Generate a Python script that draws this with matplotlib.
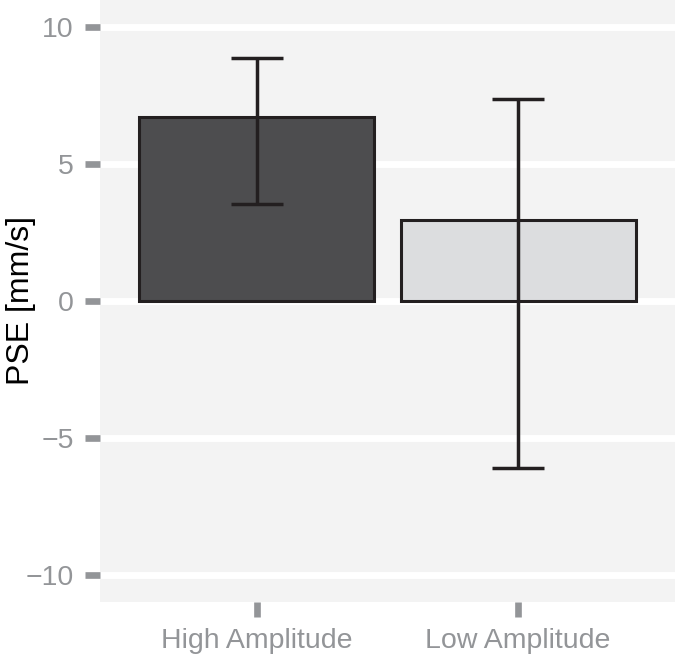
import numpy as np
import matplotlib.pyplot as plt

# Data
conditions = ["High Amplitude", "Low Amplitude"]
pse = [6.72, 2.96]
err_low = [3.54, -6.09]
err_high = [8.87, 7.37]
yticks = [-10, -5, 0, 5, 10]

bar_colors = ["#4D4D4F", "#DCDDDF"]
edge = "#231F20"
grey = "#939598"

plt.rcParams['font.family'] = ['Liberation Sans', 'DejaVu Sans']

fig = plt.figure(figsize=(6.75, 6.55), dpi=100)
ax = fig.add_axes([100 / 675, 53 / 655, 575 / 675, 602 / 655])
ax.set_facecolor("#F3F3F3")
for s in ax.spines.values():
    s.set_visible(False)

x = np.arange(1, len(conditions) + 1)
for yt in yticks:
    ax.axhline(yt, color="white", lw=5, zorder=0)

ax.bar(x, pse, width=0.9, color=bar_colors, edgecolor=edge, linewidth=2.2, zorder=2)
yerr = [np.array(pse) - np.array(err_low), np.array(err_high) - np.array(pse)]
ax.errorbar(x, pse, yerr=yerr, fmt="none", ecolor=edge, elinewidth=2.5,
            capsize=18.5, capthick=2.5, zorder=3)

ax.set_xlim(0.4, 2.6)
ax.set_ylim(-11, 11)
ax.set_xticks(x)
ax.set_xticklabels(conditions)
ax.set_yticks(yticks)
ax.set_yticklabels(["\u221210", "\u22125", "0", "5", "10"])
ax.tick_params(axis="both", colors=grey, length=11, width=4.8, labelsize=20.5,
               labelcolor=grey, pad=8)

fig.text(21 / 675, 1 - 301 / 655, "PSE [mm/s]", fontsize=23, color="black",
         rotation=90, ha="center", va="center")

fig.savefig("out.png", dpi=100)
